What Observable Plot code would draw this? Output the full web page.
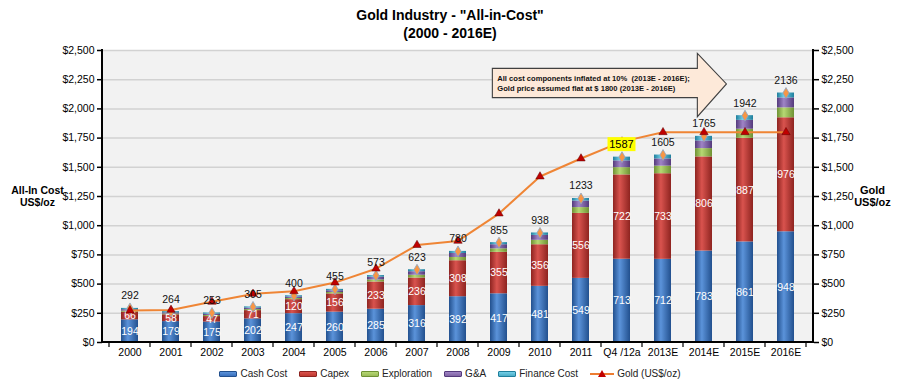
<!DOCTYPE html>
<html><head><meta charset="utf-8">
<script src="https://cdn.jsdelivr.net/npm/d3@7"></script>
<script src="https://cdn.jsdelivr.net/npm/@observablehq/plot@0.6"></script>
<style>
  html,body{margin:0;padding:0;background:#fff;}
  body{width:900px;height:385px;overflow:hidden;font-family:"Liberation Sans",Arial,sans-serif;color:#000;}
  #title{height:42px;box-sizing:border-box;padding-top:6px;text-align:center;
    font-family:"Liberation Sans",Arial,sans-serif;font-weight:bold;font-size:14px;line-height:18px;}
  #chart{height:322px;}
  #legend{height:19px;display:flex;justify-content:center;align-items:center;gap:12px;font-size:10px;color:#222;}
  .item{display:flex;align-items:center;}
  .sw{width:16px;height:4px;margin-right:3px;border:1px solid;border-radius:1px;}
  .gsw{position:relative;width:24px;height:10px;margin-right:3px;}
  .gsw .ln{position:absolute;left:0;right:0;top:4px;height:2px;background:#ed7d31;}
  .gsw .tri{position:absolute;left:8px;top:1px;width:0;height:0;border-left:4px solid transparent;border-right:4px solid transparent;border-bottom:7px solid #c00000;}
</style></head>
<body>
<div id="title">Gold Industry - "All-in-Cost"<br>(2000 - 2016E)</div>
<div id="chart"></div>
<div id="legend"></div>
<script>
// ---------------- data ----------------
const categories = ["2000","2001","2002","2003","2004","2005","2006","2007","2008","2009","2010","2011","Q4 /12a","2013E","2014E","2015E","2016E"];
const cashCost    = [194,179,175,202,247,260,285,316,392,417,481,549,713,712,783,861,948];
const capex       = [66,58,47,71,120,156,233,236,308,355,356,556,722,733,806,887,976];
const exploration = [9,7,9,9,10,12,18,24,28,30,38,50,62,65,71,78,85];
const gAndA       = [12,10,11,12,12,15,23,30,34,35,42,56,58,62,66,76,85];
const financeCost = [11,10,11,11,11,12,14,17,18,18,21,22,32,33,39,40,42];
const totalCost   = [292,264,253,305,400,455,573,623,780,855,938,1233,1587,1605,1765,1942,2136];
const goldPrice   = [274,279,348,416,438,513,632,834,870,1104,1421,1575,1720,1800,1800,1800,1800];
const seriesNames = ["Cash Cost","Capex","Exploration","G&A","Finance Cost"];
const goldName = "Gold (US$/oz)";
const yTicks = [0,250,500,750,1000,1250,1500,1750,2000,2250,2500];
const highlightCategory = "Q4 /12a";
const noteLines = ["All cost components inflated at 10%  (2013E - 2016E);","Gold price assumed flat at $ 1800 (2013E - 2016E)"];
const leftTitle = "All-In Cost\nUS$/oz";
const rightTitle = "Gold\nUS$/oz";

// ---------------- styles ----------------
const seriesColors = [
  {id:"gCash", edge:"#22508e", mid:"#5b93da", flat:"#3a70bd"},
  {id:"gCapex", edge:"#8e2420", mid:"#d9534e", flat:"#c0392f"},
  {id:"gExpl", edge:"#6f9234", mid:"#b6d873", flat:"#9bbb59"},
  {id:"gGA", edge:"#553a7c", mid:"#9f84c6", flat:"#8064a2"},
  {id:"gFin", edge:"#1f7f9c", mid:"#73cfe8", flat:"#4bacc6"}
];
const sans = '"Liberation Sans",Arial,sans-serif';

const seriesValues = [cashCost, capex, exploration, gAndA, financeCost];
const rows = [];
categories.forEach((c,i)=>seriesNames.forEach((s,j)=>rows.push({cat:c, series:s, value:seriesValues[j][i]})));
const points = categories.map((c,i)=>({cat:c, cash:cashCost[i], capex:capex[i], total:totalCost[i], gold:goldPrice[i]}));

function bandInfo(x){
  const c0 = x(categories[0]), c1 = x(categories[1]);
  const step = c1 - c0;
  const bw = typeof x.bandwidth === "function" ? x.bandwidth() : step*0.42;
  const start = c0 - (step - bw)/2;
  return {step, bw, start, pos:f=>start+f*step, center:c=>x(c)+bw/2};
}

function frameMark(index, scales, values, dim){
  const {marginLeft:ml, marginRight:mr, width:w} = dim;
  const g = d3.create("svg:g");
  const yb = scales.y(0), yt = scales.y(2500);
  const b = bandInfo(scales.x);
  g.append("line").attr("x1",ml).attr("x2",ml).attr("y1",yt-1).attr("y2",yb+1).attr("stroke","#000").attr("stroke-width",2);
  g.append("line").attr("x1",w-mr).attr("x2",w-mr).attr("y1",yt-1).attr("y2",yb+1).attr("stroke","#000").attr("stroke-width",2);
  g.append("line").attr("x1",ml).attr("x2",w-mr).attr("y1",yb).attr("y2",yb).attr("stroke","#000").attr("stroke-width",2);
  for (let i=0;i<=categories.length;i++){
    const xx = b.pos(i);
    g.append("line").attr("x1",xx).attr("x2",xx).attr("y1",yb).attr("y2",yb+5).attr("stroke","#000").attr("stroke-width",1.2);
  }
  return g.node();
}

function arrowMark(index, scales, values, dim){
  const b = bandInfo(scales.x), y = scales.y;
  const pts = [[9.35,2343],[14.35,2343],[14.35,2472],[15.06,2209],[14.35,1929],[14.35,2092],[9.35,2092]]
    .map(([f,v])=>[b.pos(f), y(v)]);
  const g = d3.create("svg:g");
  g.append("polygon").attr("points", pts.map(p=>p.join(",")).join(" "))
    .attr("fill","#fde9d9").attr("stroke","#404040").attr("stroke-width",1.1);
  const t = g.append("text").attr("font-size","7.6px").attr("font-weight","bold").attr("fill","#111")
    .attr("text-anchor","start").attr("font-family",sans);
  noteLines.forEach((s,k)=>{
    t.append("tspan").attr("x", b.pos(9.47)).attr("y", y([2260,2175][k])).attr("dy","0.35em").text(s);
  });
  return g.node();
}

function highlightMark(index, scales, values, dim){
  const b = bandInfo(scales.x);
  const i = categories.indexOf(highlightCategory);
  const cx = b.center(highlightCategory), cy = scales.y(totalCost[i]) - 12.5;
  const g = d3.create("svg:g");
  g.append("rect").attr("x",cx-14).attr("y",cy-7).attr("width",28).attr("height",14).attr("fill","#ffff00");
  g.append("text").attr("x",cx).attr("y",cy).attr("dy","0.36em").attr("text-anchor","middle")
    .attr("font-size","11px").attr("font-family",sans).attr("fill","#000").text(String(totalCost[i]));
  return g.node();
}

const plot = Plot.plot({
  width: 900, height: 322,
  marginLeft: 102, marginRight: 87, marginTop: 8, marginBottom: 22,
  style: {fontFamily:sans, fontSize:"10.5px", background:"#fff", color:"#000", overflow:"visible"},
  x: {domain: categories, paddingInner: 0.58, paddingOuter: 0.29, label: null},
  y: {domain: [0,2500], label: null},
  color: {domain: seriesNames, range: seriesColors.map(c=>`url(#${c.id})`)},
  marks: [
    Plot.frame({fill:"#f2f2f2", stroke:"none"}),
    Plot.gridY(yTicks.filter(d=>d>0), {stroke:"#d2d2d2", strokeOpacity:1, strokeWidth:1.5}),
    Plot.axisY(yTicks, {anchor:"left", tickFormat:d3.format("$,"), tickSize:5, tickPadding:3, label:null, stroke:"#000", strokeWidth:1.5}),
    Plot.axisY(yTicks, {anchor:"right", tickFormat:d3.format("$,"), tickSize:5, tickPadding:3, label:null, stroke:"#000", strokeWidth:1.5}),
    Plot.axisX({tickSize:0, tickPadding:6, label:null}),
    Plot.barY(rows, {x:"cat", y:"value", fill:"series"}),
    frameMark,
    Plot.text(points, {x:"cat", y:d=>d.cash/2, text:d=>String(d.cash), fill:"#fff", fontSize:10.5}),
    Plot.text(points, {x:"cat", y:d=>d.cash+d.capex/2, text:d=>String(d.capex), fill:"#fff", fontSize:10.5}),
    Plot.dot(points, {x:"cat", y:"total", symbol:"diamond", r:3.3, fill:"#f79646", stroke:"#8aa6c4", strokeWidth:0.8}),
    Plot.line(points, {x:"cat", y:"gold", stroke:"#ef8535", strokeWidth:2}),
    Plot.dot(points, {x:"cat", y:"gold", symbol:"triangle", r:3.1, fill:"#c00000", stroke:"#5a0000", strokeWidth:0.5}),
    Plot.text(points.filter(d=>d.cat!==highlightCategory), {x:"cat", y:"total", text:d=>String(d.total), dy:-12.5, fontSize:10.5, fill:"#111"}),
    highlightMark,
    arrowMark,
    Plot.text([{t:leftTitle, v:1250}], {y:"v", text:"t", frameAnchor:"left", dx:-65, textAnchor:"middle", fontWeight:"bold", fontSize:10.5, lineHeight:1.15}),
    Plot.text([{t:rightTitle, v:1250}], {y:"v", text:"t", frameAnchor:"right", dx:59, textAnchor:"middle", fontWeight:"bold", fontSize:11, lineHeight:1.1})
  ]
});

// gradients for 3-D looking bars
const svg = d3.select(plot.tagName.toLowerCase()==="svg" ? plot : plot.querySelector("svg"));
const defs = svg.insert("defs", ":first-child");
seriesColors.forEach(c=>{
  const lg = defs.append("linearGradient").attr("id",c.id).attr("x1","0").attr("x2","1").attr("y1","0").attr("y2","0");
  lg.append("stop").attr("offset","0%").attr("stop-color",c.edge);
  lg.append("stop").attr("offset","40%").attr("stop-color",c.mid);
  lg.append("stop").attr("offset","100%").attr("stop-color",c.edge);
});
document.getElementById("chart").appendChild(plot);

// legend
const legend = d3.select("#legend");
seriesNames.forEach((s,j)=>{
  const it = legend.append("div").attr("class","item");
  it.append("div").attr("class","sw").style("background",`linear-gradient(${seriesColors[j].mid},${seriesColors[j].flat})`).style("border-color",seriesColors[j].edge);
  it.append("span").text(s);
});
const gi = legend.append("div").attr("class","item");
const gs = gi.append("div").attr("class","gsw");
gs.append("div").attr("class","ln"); gs.append("div").attr("class","tri");
gi.append("span").text(goldName);
</script>
</body></html>
